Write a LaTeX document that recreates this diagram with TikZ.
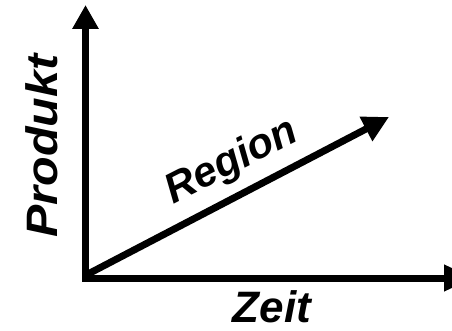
\documentclass[tikz,border=0pt]{standalone}
\usepackage{fontspec}
\setmainfont{Liberation Sans}
\usetikzlibrary{arrows.meta}

\begin{document}
\begin{tikzpicture}[
    x=1pt,y=-1pt,
    axis/.style={-{Triangle[length=24pt,width=25pt]},line width=7pt},
    lbl/.style={font=\bfseries\itshape\fontsize{44}{48}\selectfont,inner sep=0pt},
  ]
  \useasboundingbox (0,0) rectangle (452,331);

  % ---------- AXES ----------
  \coordinate (o)    at (85.5,277);
  \coordinate (ytop) at (85.5,5);
  \coordinate (xo)   at (82,278);
  \coordinate (xend) at (474,278);
  \coordinate (ro)   at (88,274);
  \coordinate (rend) at (389,117);

  \draw[axis] (o) -- (ytop);
  \draw[axis,-{Triangle[length=30pt,width=25pt]}] (xo) -- (xend);
  \draw[axis,-{Triangle[length=26pt,width=26pt]}] (ro) -- (rend);

  % ---------- LABELS ----------
  \node[lbl,anchor=base,rotate=90] (prod) at (57,146) {\scalebox{1.1}[1]{Produkt}};
  \node[lbl,anchor=base] (zeit) at (272,322) {Zeit};
  \node[lbl,anchor=base,rotate=27,font=\bfseries\itshape\fontsize{42}{46}\selectfont] (reg) at (237,172) {Region};

\end{tikzpicture}
\end{document}
